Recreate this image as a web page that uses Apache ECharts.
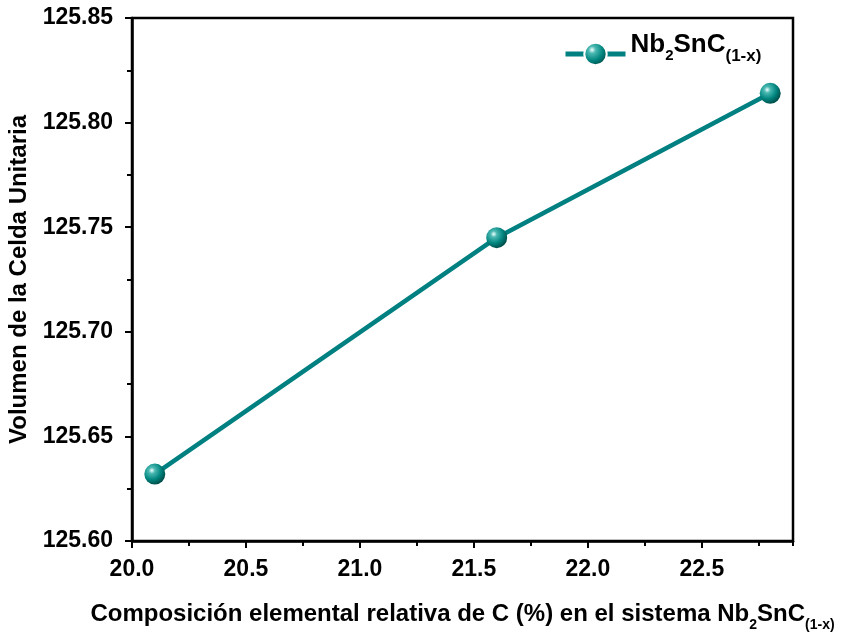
<!DOCTYPE html>
<html>
<head>
<meta charset="utf-8">
<script src="https://cdn.jsdelivr.net/npm/echarts@6/dist/echarts.min.js"></script>
<style>
  html, body { margin: 0; padding: 0; background: #fff; }
  #chart { width: 843px; height: 637px; }
</style>
</head>
<body>
<div id="chart"></div>
<script>
// Carbon content (%) and unit-cell volume for Nb2SnC(1-x)
const carbonPct = [20.1, 21.6, 22.8];
const cellVolume = [125.632, 125.745, 125.814];

const xRange = [20.0, 22.9];
const yRange = [125.60, 125.85];

const FONT = '"Liberation Sans", Arial, sans-serif';
const TEAL = '#008080';

const ball = {
  type: 'radial', x: 0.36, y: 0.33, r: 0.68,
  colorStops: [
    { offset: 0, color: '#f2ffff' },
    { offset: 0.22, color: '#4ab8b2' },
    { offset: 0.65, color: '#00847e' },
    { offset: 1, color: '#004f4b' }
  ]
};

// rich-text token: bottom aligned, raised by `raise` px
function tok(size, raise) {
  return {
    fontFamily: FONT, fontWeight: 'bold', color: '#000',
    fontSize: size, lineHeight: size, verticalAlign: 'bottom',
    padding: [0, 0, raise, 0]
  };
}

const chart = echarts.init(document.getElementById('chart'), null, { renderer: 'canvas' });
chart.setOption({
  animation: false,
  backgroundColor: '#fff',
  grid: {
    left: 132, right: 50, top: 18, bottom: 96,
    outerBoundsMode: 'none',
    show: true, borderColor: '#000', borderWidth: 2.5, backgroundColor: 'transparent'
  },
  legend: {
    top: 27, left: 558,
    itemWidth: 60, itemHeight: 28, itemGap: 6,
    data: ['Nb2SnC'],
    lineStyle: { width: 5, color: TEAL },
    itemStyle: { borderColor: '#fff', borderWidth: 2 },
    formatter: () => '{a|Nb}{s|2}{a|SnC}{t|(1-x)}',
    textStyle: {
      rich: { a: tok(26, 9), s: tok(15, 3.5), t: tok(17, 2.5) }
    }
  },
  xAxis: [{
    type: 'value', min: xRange[0], max: xRange[1], interval: 0.5,
    name: '{a|Composición elemental relativa de C (%) en el sistema Nb}{s|2}{a|SnC}{t|(1-x)}',
    nameLocation: 'middle', nameGap: 71,
    nameTextStyle: {
      rich: { a: tok(24, 10), s: tok(14, 3.5), t: tok(14, 3.5) }
    },
    axisLine: { show: true, lineStyle: { color: '#000', width: 2.5 } },
    axisTick: { show: true, length: 7, lineStyle: { color: '#000', width: 2 } },
    axisLabel: {
      showMaxLabel: false, margin: 17,
      fontFamily: FONT, fontWeight: 'bold', fontSize: 23, color: '#000',
      formatter: v => v.toFixed(1)
    },
    splitLine: { show: false }
  }, {
    // minor ticks every 0.25
    type: 'value', position: 'bottom', min: xRange[0], max: xRange[1], interval: 0.25,
    axisLine: { show: false },
    axisTick: { show: true, length: 5, lineStyle: { color: '#000', width: 2 } },
    axisLabel: { show: false },
    splitLine: { show: false }
  }],
  yAxis: {
    type: 'value', min: yRange[0], max: yRange[1], interval: 0.05,
    name: 'Volumen de la Celda Unitaria',
    nameLocation: 'middle', nameGap: 95, nameRotate: 90,
    nameTextStyle: { fontFamily: FONT, fontWeight: 'bold', fontSize: 24, color: '#000' },
    axisLine: { show: true, lineStyle: { color: '#000', width: 2.5 } },
    axisTick: { show: true, length: 7, lineStyle: { color: '#000', width: 2 } },
    minorTick: { show: true, splitNumber: 2, length: 5, lineStyle: { color: '#000', width: 2 } },
    axisLabel: {
      margin: 19,
      fontFamily: FONT, fontWeight: 'bold', fontSize: 23, color: '#000',
      formatter: v => v.toFixed(2)
    },
    splitLine: { show: false }
  },
  series: [{
    name: 'Nb2SnC',
    type: 'line',
    data: carbonPct.map((x, i) => [x, cellVolume[i]]),
    symbol: 'circle', symbolSize: 21,
    lineStyle: { color: TEAL, width: 4.5 },
    itemStyle: { color: ball, borderWidth: 0 }
  }]
});
</script>
</body>
</html>
